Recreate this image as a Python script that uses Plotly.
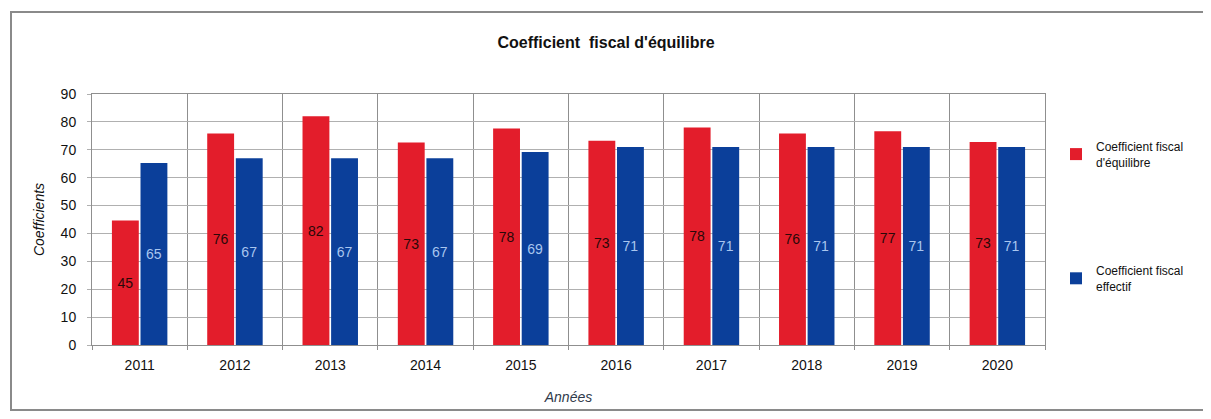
import plotly.graph_objects as go

years = ["2011", "2012", "2013", "2014", "2015", "2016", "2017", "2018", "2019", "2020"]
equilibre = [44.6, 75.8, 82, 72.6, 77.6, 73.2, 78, 75.8, 76.6, 72.8]
effectif = [65.3, 67, 67, 67, 69.2, 71, 71, 71, 71, 71]
yticks = [0, 10, 20, 30, 40, 50, 60, 70, 80, 90]

# the page body adds an 8px margin; work in reference pixels and shift
OFF = 8
W, H = 1211 - 2 * OFF, 419 - 2 * OFF
L, T = 92 - OFF, 94 - OFF
R = W - (1045 - OFF)
B = H - (345 - OFF)
pw, ph = W - L - R, H - T - B

def px(x):
    return (x - OFF - L) / pw

def py(y):
    return (H - B - (y - OFF)) / ph

fig = go.Figure()
fig.add_trace(go.Bar(
    x=years, y=equilibre, name="Coefficient fiscal<br>d'équilibre",
    marker=dict(color="#e31d2b", line=dict(width=0)),
    texttemplate="%{y:.0f}", textposition="inside", insidetextanchor="middle",
    textfont=dict(color="#2a0808", size=14, family="Liberation Sans"),
    legendgroup="a",
))
fig.add_trace(go.Bar(
    x=years, y=effectif, name="Coefficient fiscal<br>effectif",
    marker=dict(color="#0b3f9a", line=dict(width=0)),
    texttemplate="%{y:.0f}", textposition="inside", insidetextanchor="middle",
    textfont=dict(color="#a9c6ef", size=14, family="Liberation Sans"),
    legendgroup="b",
))

fig.update_layout(
    width=W, height=H,
    margin=dict(l=L, r=R, t=T, b=B, autoexpand=False),
    paper_bgcolor="white", plot_bgcolor="white",
    barmode="group", bargap=0.4, bargroupgap=0.06,
    font=dict(family="Liberation Sans", size=13, color="#111111"),
    title=dict(text="<b>Coefficient  fiscal d'équilibre</b>", x=(606 - OFF) / W, xanchor="center",
               y=1 - (42 - OFF) / H, yanchor="middle", font=dict(size=16, color="#111111")),
    legend=dict(x=px(1056), y=py(132), xanchor="left", yanchor="top",
                tracegroupgap=90, traceorder="grouped",
                font=dict(size=12, color="#111111"),
                bgcolor="rgba(0,0,0,0)"),
    showlegend=True,
    uniformtext=dict(mode="show", minsize=12),
)
fig.update_xaxes(
    type="category", tickson="boundaries", showgrid=True, gridcolor="#8f8f8f", gridwidth=1,
    showline=True, linecolor="#8f8f8f", ticks="outside", ticklen=4, tickcolor="#8f8f8f",
    ticklabelstandoff=7,
    tickfont=dict(size=14, color="#111111"),
    title=dict(text="<i>Années</i>", font=dict(size=14, color="#2f3a4a"), standoff=20),
    mirror=True,
)
fig.update_yaxes(
    range=[0, 90], tickvals=yticks, ticktext=[str(v) for v in yticks],
    showgrid=True, gridcolor="#b0b0b0", gridwidth=1, zeroline=False,
    showline=True, linecolor="#8f8f8f", mirror=True,
    tickfont=dict(size=14, color="#111111"), ticks="outside", ticklen=4, tickcolor="#b0b0b0",
    ticklabelstandoff=8,
    title=dict(text="<i>Coefficients</i>", font=dict(size=14, color="#111111"), standoff=12),
)
x0, x1, y0, y1 = px(11), px(1240), py(410), py(12)
fig.add_shape(type="path", xref="paper", yref="paper",
              path=f"M {x1},{y1} L {x0},{y1} L {x0},{y0} L {x1},{y0}",
              line=dict(color="#8a8a8a", width=2), layer="below")

fig.write_html("out.html")
